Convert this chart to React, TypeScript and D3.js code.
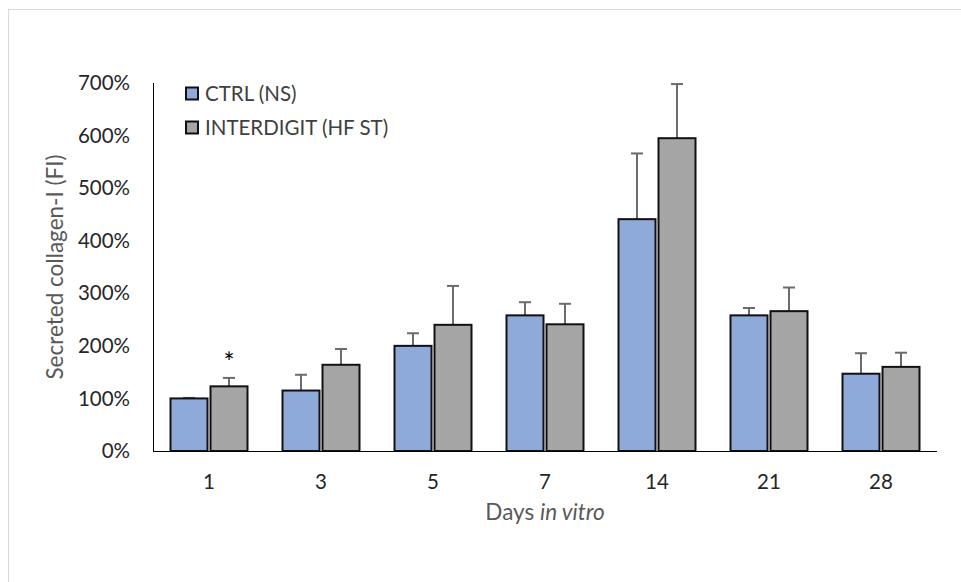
import React, {useRef, useEffect} from 'react'
import * as d3 from 'd3'

// data (fraction, 1 = 100%)
const days = ['1', '3', '5', '7', '14', '21', '28']
const series = ['CTRL (NS)', 'INTERDIGIT (HF ST)']
const ctrlValues = [1.0, 1.15, 2.0, 2.58, 4.41, 2.58, 1.47]
const ctrlErrors = [0.01, 0.30, 0.24, 0.25, 1.25, 0.14, 0.39]
const hfValues = [1.23, 1.64, 2.40, 2.41, 5.95, 2.66, 1.60]
const hfErrors = [0.16, 0.30, 0.74, 0.39, 1.03, 0.45, 0.27]
const yTicks = [0, 1, 2, 3, 4, 5, 6, 7]
const colors = ['#8eaadb', '#a5a5a5']

const App = () => {
    const element = useRef<SVGSVGElement>(null)

    useEffect(() => {
        const width = 961
        const height = 582
        const font = 'Lato, "Open Sans", sans-serif'

        const svg = d3.select(element.current)
        svg.selectAll('*').remove()

        // outer chart border
        svg.append('rect')
            .attr('x', 8.5)
            .attr('y', 9.5)
            .attr('width', width)
            .attr('height', height)
            .attr('fill', '#fff')
            .attr('stroke', '#d9d9d9')

        const x0 = d3.scaleBand().domain(days).range([153, 937])
        const bw = x0.bandwidth()
        const groupW = 77
        const x1 = d3.scaleBand().domain(series)
            .range([(bw - groupW) / 2, (bw + groupW) / 2])
            .paddingInner(0.075)
        const y = d3.scaleLinear().domain([0, 7]).range([451, 83])

        // y tick labels
        svg.append('g')
            .selectAll('text')
            .data(yTicks)
            .enter()
            .append('text')
            .attr('x', 130)
            .attr('y', d => y(d))
            .attr('dy', '0.35em')
            .attr('text-anchor', 'end')
            .attr('font-family', font)
            .attr('font-size', 20.5)
            .attr('fill', '#262626')
            .text(d => d3.format('.0%')(d))

        // x tick labels
        svg.append('g')
            .selectAll('text')
            .data(days)
            .enter()
            .append('text')
            .attr('x', d => x0(d)! + bw / 2)
            .attr('y', 482)
            .attr('dy', '0.35em')
            .attr('text-anchor', 'middle')
            .attr('font-family', font)
            .attr('font-size', 20.5)
            .attr('fill', '#262626')
            .text(d => d)

        const rows = days.map((d, i) => ({
            day: d,
            vals: [
                {s: series[0], v: ctrlValues[i], e: ctrlErrors[i], c: colors[0]},
                {s: series[1], v: hfValues[i], e: hfErrors[i], c: colors[1]},
            ],
        }))

        const groups = svg.append('g')
            .selectAll('g')
            .data(rows)
            .enter()
            .append('g')
            .attr('transform', d => `translate(${x0(d.day)},0)`)

        // error bars first so the bar outline sits on top of the base
        groups.selectAll('g.err')
            .data(d => d.vals)
            .enter()
            .append('g')
            .attr('class', 'err')
            .each(function (d) {
                const g = d3.select(this)
                const cx = x1(d.s)! + x1.bandwidth() / 2
                g.append('line')
                    .attr('x1', cx).attr('x2', cx)
                    .attr('y1', y(d.v)).attr('y2', y(d.v + d.e))
                    .attr('stroke', '#6b6b6b').attr('stroke-width', 2)
                g.append('line')
                    .attr('x1', cx - 6).attr('x2', cx + 6)
                    .attr('y1', y(d.v + d.e)).attr('y2', y(d.v + d.e))
                    .attr('stroke', '#6b6b6b').attr('stroke-width', 2)
            })

        groups.selectAll('rect')
            .data(d => d.vals)
            .enter()
            .append('rect')
            .attr('x', d => x1(d.s)!)
            .attr('y', d => y(d.v))
            .attr('width', x1.bandwidth())
            .attr('height', d => y(0) - y(d.v))
            .attr('fill', d => d.c)
            .attr('stroke', '#111')
            .attr('stroke-width', 2)

        // axes lines
        svg.append('line')
            .attr('x1', 153.5).attr('x2', 153.5)
            .attr('y1', y(7)).attr('y2', y(0))
            .attr('stroke', '#000')
        svg.append('line')
            .attr('x1', 153).attr('x2', 937)
            .attr('y1', y(0) + 0.5).attr('y2', y(0) + 0.5)
            .attr('stroke', '#000')

        // significance mark
        svg.append('text')
            .attr('x', x0('1')! + x1(series[1])! + x1.bandwidth() / 2)
            .attr('y', y(hfValues[0] + hfErrors[0]) - 6)
            .attr('text-anchor', 'middle')
            .attr('font-family', font)
            .attr('font-size', 26)
            .attr('fill', '#000')
            .text('*')

        // legend
        const legend = svg.append('g')
        series.forEach((s, i) => {
            const ly = 93.5 + i * 34
            legend.append('rect')
                .attr('x', 186).attr('y', ly - 6)
                .attr('width', 12).attr('height', 12)
                .attr('fill', colors[i])
                .attr('stroke', '#111').attr('stroke-width', 2)
            legend.append('text')
                .attr('x', 205).attr('y', ly)
                .attr('dy', '0.35em')
                .attr('font-family', font)
                .attr('font-size', 20.5)
                .attr('fill', '#404040')
                .text(s)
        })

        // axis titles
        svg.append('text')
            .attr('transform', `translate(55,${(y(0) + y(7)) / 2}) rotate(-90)`)
            .attr('dy', '0.35em')
            .attr('text-anchor', 'middle')
            .attr('font-family', font)
            .attr('font-size', 22.5)
            .attr('fill', '#595959')
            .text('Secreted collagen-I (FI)')

        const xt = svg.append('text')
            .attr('x', 545)
            .attr('y', 512)
            .attr('dy', '0.35em')
            .attr('text-anchor', 'middle')
            .attr('font-family', font)
            .attr('font-size', 22.5)
            .attr('fill', '#595959')
        xt.append('tspan').text('Days ')
        xt.append('tspan').attr('font-style', 'italic').text('in vitro')
    }, [])

    return (
        <svg ref={element} width={961} height={582}
            style={{position: 'absolute', left: 0, top: 0, background: '#fff'}} />
    )
}

export default App
